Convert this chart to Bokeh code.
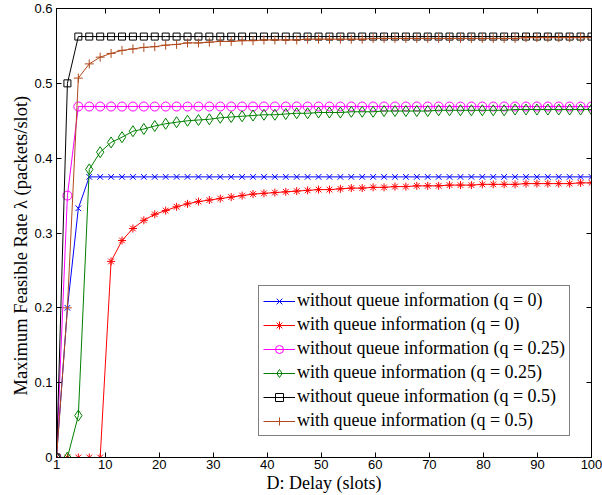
import numpy as np
from bokeh.plotting import figure
from bokeh.models import Range1d, FixedTicker, LinearAxis, Legend, Title
from bokeh.embed import file_html
from bokeh.resources import INLINE

# Delay grid (50 points from 1 to 100)
D = np.linspace(1, 100, 50)

wo_q0 = [0.0, 0.2, 0.333] + [0.375] * 47
w_q0 = [0.0, 0.0, 0.0, 0.0, 0.0, 0.262, 0.290, 0.306, 0.317, 0.325,
        0.330, 0.335, 0.339, 0.342, 0.344, 0.346, 0.348, 0.350, 0.352, 0.353,
        0.354, 0.355, 0.356, 0.357, 0.358, 0.358, 0.359, 0.360, 0.360, 0.361,
        0.361, 0.362, 0.362, 0.363, 0.363, 0.363, 0.364, 0.364, 0.364, 0.365,
        0.365, 0.365, 0.365, 0.366, 0.366, 0.366, 0.366, 0.366, 0.367, 0.367]
wo_q25 = [0.0, 0.350] + [0.469] * 48
w_q25 = [0.0, 0.0, 0.056, 0.385, 0.408, 0.421, 0.428, 0.436, 0.439, 0.443,
         0.446, 0.448, 0.450, 0.451, 0.452, 0.454, 0.455, 0.456, 0.457, 0.458,
         0.458, 0.459, 0.460, 0.460, 0.461, 0.461, 0.461, 0.462, 0.462, 0.462,
         0.463, 0.463, 0.463, 0.463, 0.463, 0.464, 0.464, 0.464, 0.464, 0.464,
         0.464, 0.464, 0.465, 0.465, 0.465, 0.465, 0.465, 0.465, 0.465, 0.465]
wo_q5 = [0.0, 0.5] + [0.5625] * 48
w_q5 = [0.0, 0.2, 0.507, 0.526, 0.535, 0.540, 0.544, 0.546, 0.548, 0.549,
        0.551, 0.552, 0.554, 0.554, 0.555, 0.556, 0.556, 0.557, 0.557, 0.558,
        0.558, 0.558, 0.558, 0.559, 0.559, 0.559, 0.559, 0.559, 0.559, 0.560,
        0.560, 0.560, 0.560, 0.560, 0.560, 0.560, 0.560, 0.560, 0.560, 0.560,
        0.560, 0.560, 0.560, 0.561, 0.561, 0.561, 0.561, 0.561, 0.561, 0.561]

x_ticks = [1, 10, 20, 30, 40, 50, 60, 70, 80, 90, 100]
y_ticks = [0, 0.1, 0.2, 0.3, 0.4, 0.5, 0.6]
y_tick_labels = {0: "0", 0.1: "0.1", 0.2: "0.2", 0.3: "0.3", 0.4: "0.4", 0.5: "0.5", 0.6: "0.6"}

series = [
    ("without queue information (q = 0)", wo_q0, "#0000ff", "x", 8),
    ("with queue information (q = 0)", w_q0, "#ff0000", "asterisk", 8),
    ("without queue information (q = 0.25)", wo_q25, "#ff00ff", "circle", 9),
    ("with queue information (q = 0.25)", w_q25, "#008000", "diamond", 11),
    ("without queue information (q = 0.5)", wo_q5, "#000000", "square", 7),
    ("with queue information (q = 0.5)", w_q5, "#b0481a", "cross", 9),
]

p = figure(width=602, height=495, output_backend="svg", toolbar_location=None,
           x_range=Range1d(1, 100), y_range=Range1d(0, 0.6),
           min_border_left=56, min_border_right=11, min_border_top=8, min_border_bottom=37)
p.background_fill_color = "white"
p.border_fill_color = "white"
p.xgrid.visible = False
p.ygrid.visible = False
p.outline_line_color = "black"
p.outline_line_width = 1
p.outline_line_alpha = 1

serif = "Liberation Serif"
sans = "Liberation Sans"

items = []
for label, ys, color, marker, size in series:
    r1 = p.line(D, ys, line_color=color, line_width=1)
    r2 = p.scatter(D, ys, marker=marker, size=size, line_color=color,
                   fill_color=None, line_width=1)
    items.append((label, [r1, r2]))

legend = Legend(items=items, location=(202, 21))
legend.label_text_font = serif
legend.label_text_font_size = "18px"
legend.label_text_color = "black"
legend.border_line_color = "black"
legend.border_line_width = 1
legend.background_fill_color = "white"
legend.background_fill_alpha = 1
legend.glyph_width = 32
legend.glyph_height = 20
legend.label_height = 20
legend.spacing = 3
legend.padding = 4
legend.margin = 0
legend.label_standoff = 2
p.add_layout(legend, "center")

for ax in [p.xaxis[0], p.yaxis[0]]:
    ax.major_label_text_font = sans
    ax.major_label_text_font_size = "13px"
    ax.major_label_text_color = "black"
    ax.axis_line_color = "black"
    ax.major_tick_line_color = "black"
    ax.major_tick_in = 5
    ax.major_tick_out = 0
    ax.minor_tick_line_color = None
    ax.axis_label_text_font = serif
    ax.axis_label_text_font_size = "18px"
    ax.axis_label_text_font_style = "normal"
    ax.axis_label_text_color = "black"

p.xaxis[0].ticker = FixedTicker(ticks=x_ticks)
p.yaxis[0].ticker = FixedTicker(ticks=y_ticks)
p.yaxis[0].major_label_overrides = y_tick_labels
p.xaxis[0].axis_label = "D: Delay (slots)"
p.xaxis[0].major_label_standoff = 2
p.yaxis[0].major_label_standoff = 4
p.xaxis[0].axis_label_standoff = 1

# y-axis title as a left-side title, shifted toward the top like the reference
ytitle = Title(text="Maximum Feasible Rate λ (packets/slot)", align="left", offset=62,
               text_font=serif, text_font_size="18.5px", text_font_style="normal",
               text_color="black", standoff=2)
p.add_layout(ytitle, "left")

# mirrored ticks on top and right
top = LinearAxis(ticker=FixedTicker(ticks=x_ticks),
                 major_label_overrides={t: "" for t in x_ticks},
                 major_label_text_color=None, major_label_text_font_size="1px",
                 major_tick_in=5, major_tick_out=0, minor_tick_line_color=None,
                 axis_line_color="black", major_label_standoff=0)
right = LinearAxis(ticker=FixedTicker(ticks=y_ticks),
                   major_label_overrides={t: "" for t in y_ticks},
                   major_label_text_color=None, major_label_text_font_size="1px",
                   major_tick_in=5, major_tick_out=0, minor_tick_line_color=None,
                   axis_line_color="black", major_label_standoff=0)
p.add_layout(top, "above")
p.add_layout(right, "right")

open("out.html", "w").write(file_html(p, INLINE))
